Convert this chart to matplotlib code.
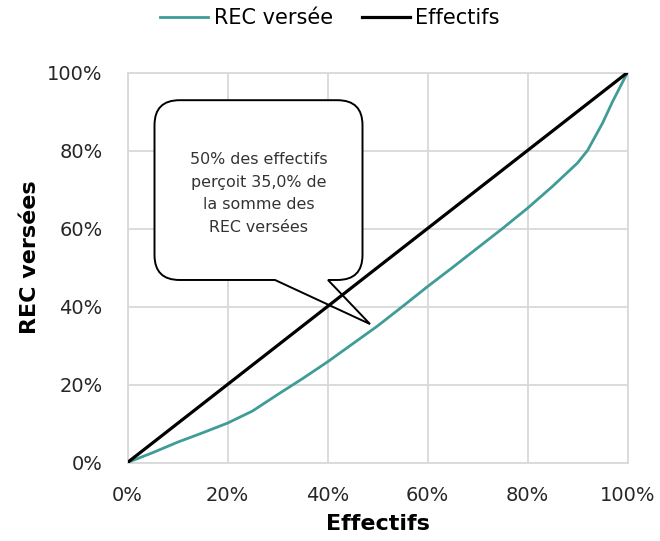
import matplotlib.pyplot as plt
from matplotlib.path import Path
from matplotlib.patches import PathPatch

# share of workforce (%) and cumulative share of REC paid (%)
effectifs = [0, 5, 10, 15, 20, 25, 30, 35, 40, 45, 50, 55, 60, 65, 70, 75, 80, 85, 90, 92, 95, 97, 100]
rec_versee = [0, 2.5, 5.2, 7.6, 10.1, 13.2, 17.4, 21.5, 25.8, 30.4, 35.0, 40.0, 45.1, 50.0, 55.0, 60.0, 65.2, 70.8, 76.8, 80.0, 87.0, 92.5, 100]
egalite = [0, 100]

ticks = [0, 20, 40, 60, 80, 100]
tick_labels = ['0%', '20%', '40%', '60%', '80%', '100%']

callout = "50% des effectifs\nperçoit 35,0% de\nla somme des\nREC versées"

teal = '#3f9c97'
grid_col = '#d9d9d9'
plt.rcParams['font.family'] = ['DejaVu Sans']

fig = plt.figure(figsize=(6.6, 5.41), dpi=100)
ax = fig.add_axes([127.5 / 660, 78.5 / 541, 500 / 660, 390 / 541])

l1, = ax.plot(effectifs, rec_versee, color=teal, lw=2.0, label='REC versée', zorder=3)
l2, = ax.plot(egalite, egalite, color='black', lw=2.3, label='Effectifs', zorder=3)

ax.set_xlim(0, 100)
ax.set_ylim(0, 100)
ax.set_xticks(ticks)
ax.set_xticklabels(tick_labels)
ax.set_yticks(ticks)
ax.set_yticklabels(tick_labels)
ax.tick_params(length=0, labelsize=14, colors='#262626')
ax.tick_params(axis='x', pad=17)
ax.tick_params(axis='y', pad=18)
ax.grid(True, color=grid_col, lw=1.3)
ax.set_axisbelow(True)
for s in ax.spines.values():
    s.set_color(grid_col)
    s.set_linewidth(1.3)

ax.set_xlabel('Effectifs', fontsize=16, fontweight='bold')
ax.set_ylabel('REC versées', fontsize=16, fontweight='bold')
ax.xaxis.set_label_coords(0.5, -0.132)
ax.yaxis.set_label_coords(-0.175, 0.527)

fig.legend(handles=[l1, l2], loc='center', bbox_to_anchor=(0.5, 1 - 18 / 541), ncol=2,
           frameon=False, fontsize=15, handlelength=2.3, handletextpad=0.25,
           columnspacing=1.4, borderaxespad=0, borderpad=0)

# speech bubble
x0, x1, y0, y1 = 5.4, 47.0, 46.8, 92.9
rx, ry = 5.0, 6.4
b0, b1 = 29.5, 40.1
tip = (48.5, 35.5)
verts = [
    (x0 + rx, y1), (x1 - rx, y1), (x1, y1), (x1, y1 - ry),
    (x1, y0 + ry), (x1, y0), (x1 - rx, y0),
    (b1, y0), tip, (b0, y0),
    (x0 + rx, y0), (x0, y0), (x0, y0 + ry),
    (x0, y1 - ry), (x0, y1), (x0 + rx, y1),
]
codes = [Path.MOVETO, Path.LINETO, Path.CURVE3, Path.CURVE3,
         Path.LINETO, Path.CURVE3, Path.CURVE3,
         Path.LINETO, Path.LINETO, Path.LINETO,
         Path.LINETO, Path.CURVE3, Path.CURVE3,
         Path.LINETO, Path.CURVE3, Path.CURVE3]
ax.add_patch(PathPatch(Path(verts, codes), facecolor='white', edgecolor='black',
                       lw=1.4, zorder=2))
ax.text((x0 + x1) / 2, 69.0, callout, ha='center', va='center', fontsize=11.4,
        color='#333333', linespacing=1.62, zorder=4)

fig.savefig('out.png', dpi=100)
